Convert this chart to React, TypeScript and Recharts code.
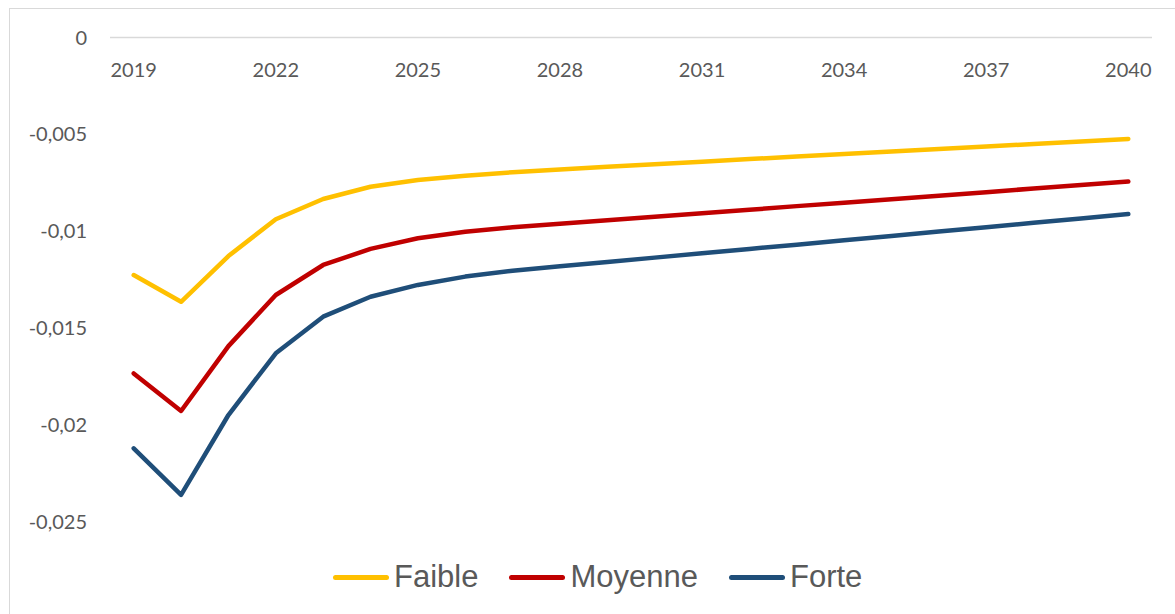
import { LineChart, Line, XAxis, YAxis } from "recharts";

const years = [
  "2019", "2020", "2021", "2022", "2023", "2024", "2025", "2026", "2027", "2028", "2029",
  "2030", "2031", "2032", "2033", "2034", "2035", "2036", "2037", "2038", "2039", "2040",
];

const faible = [
  -0.01227, -0.01365, -0.01129, -0.00939, -0.00834, -0.00771, -0.00736, -0.00714, -0.00696, -0.00682, -0.00668,
  -0.00655, -0.00642, -0.00628, -0.00615, -0.00602, -0.00589, -0.00576, -0.00563, -0.0055, -0.00537, -0.00524,
];

const moyenne = [
  -0.01735, -0.01929, -0.01594, -0.0133, -0.01175, -0.01092, -0.01037, -0.01003, -0.0098, -0.00962, -0.00944,
  -0.00926, -0.00908, -0.0089, -0.00871, -0.00853, -0.00835, -0.00817, -0.00799, -0.0078, -0.00762, -0.00744,
];

const forte = [
  -0.02122, -0.02363, -0.0195, -0.01631, -0.01442, -0.01339, -0.01278, -0.01235, -0.01205, -0.01182, -0.0116,
  -0.01137, -0.01115, -0.01092, -0.0107, -0.01047, -0.01025, -0.01002, -0.0098, -0.00957, -0.00935, -0.00912,
];

const yTicks = [0, -0.005, -0.01, -0.015, -0.02, -0.025];

const series = [
  { key: "faible", name: "Faible", color: "#FFC000" },
  { key: "moyenne", name: "Moyenne", color: "#C00000" },
  { key: "forte", name: "Forte", color: "#1F4E79" },
];

const data = years.map((year, i) => ({
  year,
  faible: faible[i],
  moyenne: moyenne[i],
  forte: forte[i],
}));

const fmt = (v: number) => String(v).replace(".", ",");

// year labels sit under the zero line
const YearTick = ({ x, y, payload }: any) => (
  <text x={x} y={y} dy={39} textAnchor="middle" fill="#595959" fontSize={20} fontFamily="Lato">
    {payload.value}
  </text>
);

const App = () => {
  return (
    <div style={{ position: "absolute", left: 0, top: 0, width: 1175, height: 614, overflow: "hidden", background: "#fff" }}>
      <div
        style={{
          position: "absolute",
          left: 9,
          top: 8,
          width: 1200,
          height: 700,
          border: "1px solid #d9d9d9",
        }}
      />
      <LineChart
        width={1175}
        height={614}
        data={data}
        margin={{ top: 7.5, right: 23, bottom: 92.5, left: 0 }}
        style={{ position: "absolute", left: 0, top: 0 }}
      >
        <XAxis
          dataKey="year"
          orientation="top"
          height={30}
          interval={2}
          tickSize={0}
          tickMargin={0}
          tick={<YearTick />}
          axisLine={{ stroke: "#d9d9d9", strokeWidth: 1.5 }}
          tickLine={false}
          padding={{ left: 23.7, right: 23.7 }}
        />
        <YAxis
          width={110}
          domain={[-0.025, 0]}
          ticks={yTicks}
          tickFormatter={fmt}
          axisLine={false}
          tickLine={false}
          tickSize={0}
          tickMargin={23}
          tick={{ fill: "#595959", fontSize: 20, fontFamily: "Lato" }}
        />
        {series.map((s) => (
          <Line
            key={s.key}
            type="linear"
            dataKey={s.key}
            name={s.name}
            stroke={s.color}
            strokeWidth={4.5}
            strokeLinecap="round"
            strokeLinejoin="round"
            dot={false}
            isAnimationActive={false}
          />
        ))}
      </LineChart>
      <div
        style={{
          position: "absolute",
          left: 333,
          top: 557,
          height: 40,
          display: "flex",
          alignItems: "center",
          gap: 31,
          fontFamily: "'Liberation Sans', Arial, sans-serif",
          fontSize: 31,
          color: "#595959",
        }}
      >
        {series.map((s) => (
          <div key={s.key} style={{ display: "flex", alignItems: "center", gap: 5 }}>
            <div style={{ width: 56, height: 5, borderRadius: 3, background: s.color }} />
            <span>{s.name}</span>
          </div>
        ))}
      </div>
    </div>
  );
};

export default App;
